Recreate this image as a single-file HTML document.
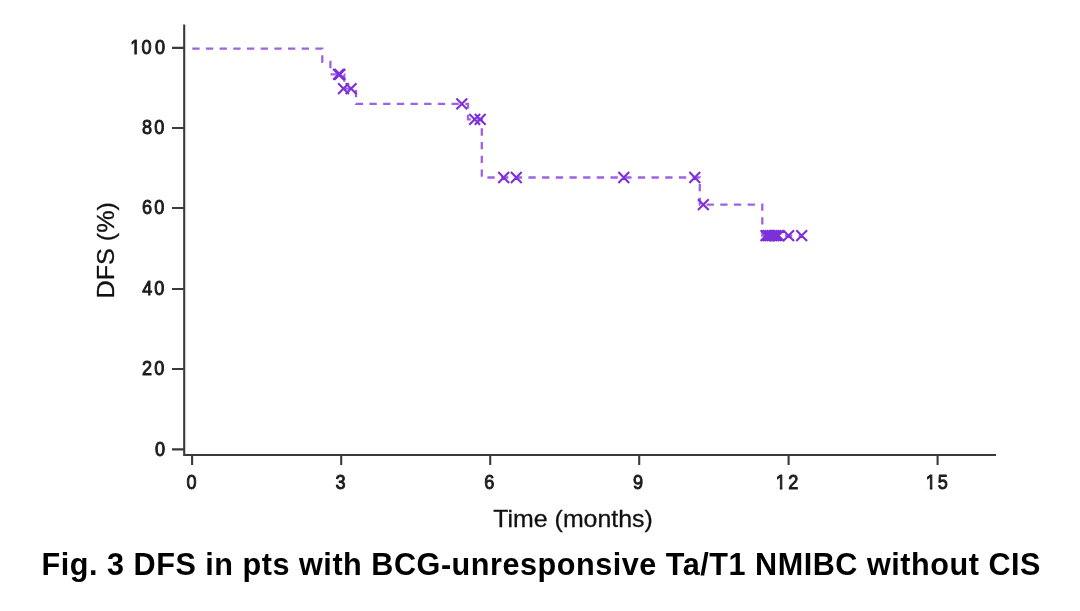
<!DOCTYPE html>
<html lang="en">
<head>
<meta charset="utf-8">
<title>Fig. 3 DFS</title>
<style>
  html, body { margin: 0; padding: 0; background: #ffffff; }
  body { width: 1080px; height: 611px; overflow: hidden; position: relative; font-family: "Liberation Sans", sans-serif; }
  svg { position: absolute; left: 0; top: 0; display: block; filter: blur(0.45px); }
  .tick { font-family: "Liberation Sans", sans-serif; font-weight: normal; font-size: 20.8px; fill: #1c1c1c; stroke: #1c1c1c; stroke-width: 1px; stroke-linejoin: round; }
  .axl { font-family: "Liberation Sans", sans-serif; font-size: 24px; fill: #111; stroke: #111; stroke-width: 0.3px; }
  .cap { font-family: "Liberation Sans", sans-serif; font-weight: bold; font-size: 30.6px; fill: #000; }
</style>
</head>
<body>
<svg width="1080" height="611" viewBox="0 0 1080 611">
  <!-- axes -->
  <g stroke="#3a3a3a" stroke-width="2.1" fill="none" stroke-linecap="butt">
    <path d="M184.2 24.4 V454.95 H996"/>
    <path d="M172 47.85 H184.2 M172 128.05 H184.2 M172 208.05 H184.2 M172 289.05 H184.2 M172 369.05 H184.2 M172 449.4 H184.2"/>
    <path d="M192.1 454.9 V465 M341.2 454.9 V465 M490.2 454.9 V465 M639.2 454.9 V465 M788.6 454.9 V465 M937.6 454.9 V465"/>
  </g>
  <!-- y tick labels -->
  <g class="tick" transform="scale(0.87 1)">
    <text x="149.71 162.61 178.12" y="54.15">100</text>
    <text x="163.35 177.26" y="134.35">80</text>
    <text x="163.28 177.26" y="214.35">60</text>
    <text x="163.42 177.26" y="295.35">40</text>
    <text x="163.35 177.26" y="375.35">20</text>
    <text x="178.12" y="455.70">0</text>
    <text x="214.45" y="489.1">0</text>
    <text x="385.71" y="489.1">3</text>
    <text x="556.73" y="489.1">6</text>
    <text x="727.55" y="489.1">9</text>
    <text x="891.67 906.11" y="489.1">12</text>
    <text x="1064.08 1077.86" y="489.1">15</text>
  </g>
  <g fill="#ffffff">
    <rect x="130.69" y="51.95" width="3.62" height="3.15"/><rect x="136.88" y="51.95" width="3.48" height="3.15"/>
    <rect x="776.19" y="486.90" width="3.62" height="3.15"/><rect x="782.38" y="486.90" width="3.48" height="3.15"/>
    <rect x="926.19" y="486.90" width="3.62" height="3.15"/><rect x="932.38" y="486.90" width="3.48" height="3.15"/>
  </g>
  <!-- axis titles -->
  <text class="axl" x="493.3" y="527" textLength="159.5" lengthAdjust="spacingAndGlyphs">Time (months)</text>
  <text class="axl" transform="translate(113.9 298.5) rotate(-90)" textLength="96.5" lengthAdjust="spacingAndGlyphs">DFS (%)</text>
  <!-- curve -->
  <path d="M192.25 48.55 H322.3 V61.9 H330.4 V74.45 H344.3 V88.6 H356 V103.9 H468 V119.3 H481.8 V177.5 H699.8 V204.55 H762.3 V235.6 H800" fill="none" stroke="#9f62e2" stroke-width="2.3" stroke-dasharray="7.3 6.38"/>
  <!-- censor marks -->
  <g stroke="#7d2fd9" stroke-width="2.1" fill="none">
    <path d="M333.10 69.05 L343.90 79.85 M333.10 79.85 L343.90 69.05 M334.50 69.05 L345.30 79.85 M334.50 79.85 L345.30 69.05"/>
    <path d="M338.10 83.20 L348.90 94.00 M338.10 94.00 L348.90 83.20 M345.70 83.20 L356.50 94.00 M345.70 94.00 L356.50 83.20"/>
    <path d="M456.40 98.45 L467.20 109.25 M456.40 109.25 L467.20 98.45"/>
    <path d="M469.30 113.90 L480.10 124.70 M469.30 124.70 L480.10 113.90 M474.80 113.90 L485.60 124.70 M474.80 124.70 L485.60 113.90"/>
    <path d="M498.30 172.10 L509.10 182.90 M498.30 182.90 L509.10 172.10 M510.90 172.10 L521.70 182.90 M510.90 182.90 L521.70 172.10 M618.40 172.10 L629.20 182.90 M618.40 182.90 L629.20 172.10 M689.40 172.10 L700.20 182.90 M689.40 182.90 L700.20 172.10"/>
    <path d="M697.90 199.15 L708.70 209.95 M697.90 209.95 L708.70 199.15"/>
    <path d="M760.60 230.20 L771.40 241.00 M760.60 241.00 L771.40 230.20 M762.60 230.20 L773.40 241.00 M762.60 241.00 L773.40 230.20 M764.60 230.20 L775.40 241.00 M764.60 241.00 L775.40 230.20 M766.60 230.20 L777.40 241.00 M766.60 241.00 L777.40 230.20 M768.60 230.20 L779.40 241.00 M768.60 241.00 L779.40 230.20 M770.60 230.20 L781.40 241.00 M770.60 241.00 L781.40 230.20 M773.00 230.20 L783.80 241.00 M773.00 241.00 L783.80 230.20 M783.20 230.20 L794.00 241.00 M783.20 241.00 L794.00 230.20 M796.30 230.20 L807.10 241.00 M796.30 241.00 L807.10 230.20"/>
  </g>
  <!-- caption -->
  <text class="cap" x="41.5" y="575.4" textLength="999" lengthAdjust="spacing">Fig. 3 DFS in pts with BCG-unresponsive Ta/T1 NMIBC without CIS</text>
</svg>
</body>
</html>
